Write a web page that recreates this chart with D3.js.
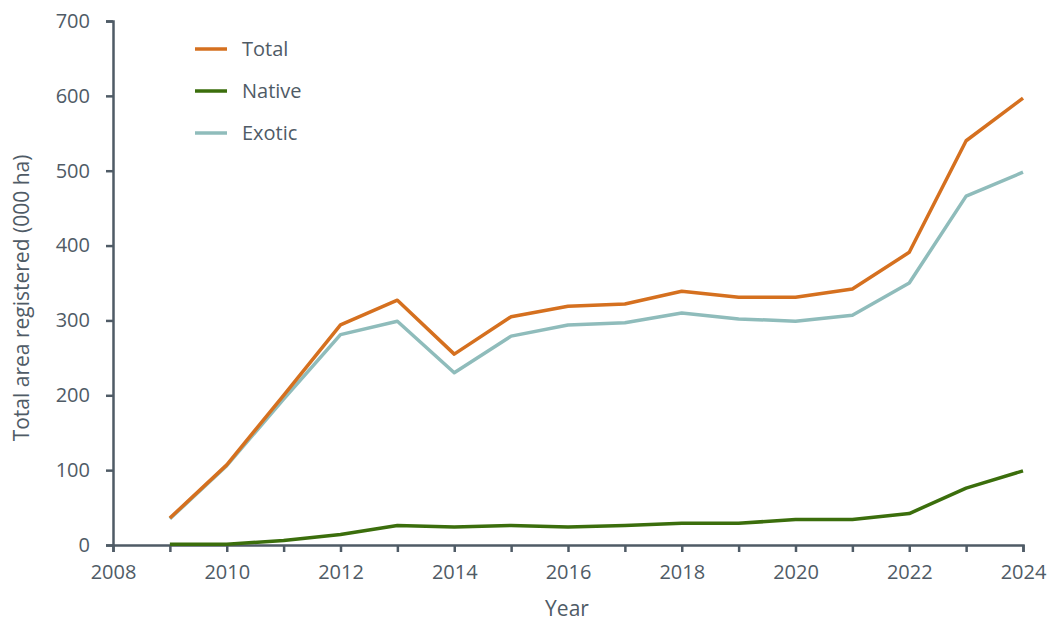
<html>
<head>
<script src="https://d3js.org/d3.v7.min.js"></script>
<style>
body { margin: 0; background: #fff; }
text { font-family: "Open Sans", sans-serif; fill: #4f5b66; }
.axis .domain, .axis line { stroke: #4f5b66; stroke-width: 2.5; }
.axis text { font-size: 20px; fill: #4f5b66; }
</style>
</head>
<body>
<svg id="all" width="1050" height="624"></svg>
<script>
const years = [2009,2010,2011,2012,2013,2014,2015,2016,2017,2018,2019,2020,2021,2022,2023,2024];
const total  = [36,107,200,294,327,255,305,319,322,339,331,331,342,391,540,597];
const native = [1,1,6,14,26,24,26,24,26,29,29,34,34,42,76,99];
const exotic = [35,106,195,281,299,230,279,294,297,310,302,299,307,350,466,498];
const seriesNames = ["Total","Native","Exotic"];
const seriesColors = ["#d5701f","#3b6e0c","#8fbcbb"];
const yTicks = [0,100,200,300,400,500,600,700];
const xTicks = [2008,2010,2012,2014,2016,2018,2020,2022,2024];

const svg = d3.select("svg#all");
const margin = {top: 21, left: 113, right: 27, bottom: 79};
const width = 1050, height = 624;

const x = d3.scaleLinear().domain([2008,2024]).range([margin.left, width - margin.right]);
const y = d3.scaleLinear().domain([0,700]).range([height - margin.bottom, margin.top]);

// x axis: every year gets a tick, labels every 2nd
svg.append("g").attr("class","axis")
   .attr("transform",`translate(0,${y(0)})`)
   .call(d3.axisBottom(x).tickValues(d3.range(2008,2025)).tickSize(7).tickSizeOuter(7)
         .tickFormat(d => xTicks.includes(d) ? d : "").tickPadding(13));

svg.append("g").attr("class","axis")
   .attr("transform",`translate(${x(2008)},0)`)
   .call(d3.axisLeft(y).tickValues(yTicks).tickSize(7).tickSizeOuter(7).tickPadding(16));

const data = [total, native, exotic];
const line = d3.line().x((d,i) => x(years[i])).y(d => y(d));

// draw exotic, native first so total sits on top
[2,1,0].forEach(k => {
  svg.append("path")
     .attr("d", line(data[k]))
     .attr("fill","none")
     .attr("stroke", seriesColors[k])
     .attr("stroke-width", 3.5)
     .attr("stroke-linejoin","round");
});

// legend
const leg = svg.append("g").attr("transform","translate(195,49)");
seriesNames.forEach((n,i) => {
  leg.append("line").attr("x1",0).attr("x2",32).attr("y1",i*42).attr("y2",i*42)
     .attr("stroke",seriesColors[i]).attr("stroke-width",3.5);
  leg.append("text").attr("x",47).attr("y",i*42).attr("dy","0.35em")
     .style("font-size","20px").text(n);
});

svg.append("text").attr("x",567).attr("y",616)
   .attr("text-anchor","middle").style("font-size","21px").text("Year");

svg.append("text")
   .attr("transform",`translate(29,298) rotate(-90)`)
   .attr("text-anchor","middle").style("font-size","21px")
   .text("Total area registered (000 ha)");
</script>
</body>
</html>
